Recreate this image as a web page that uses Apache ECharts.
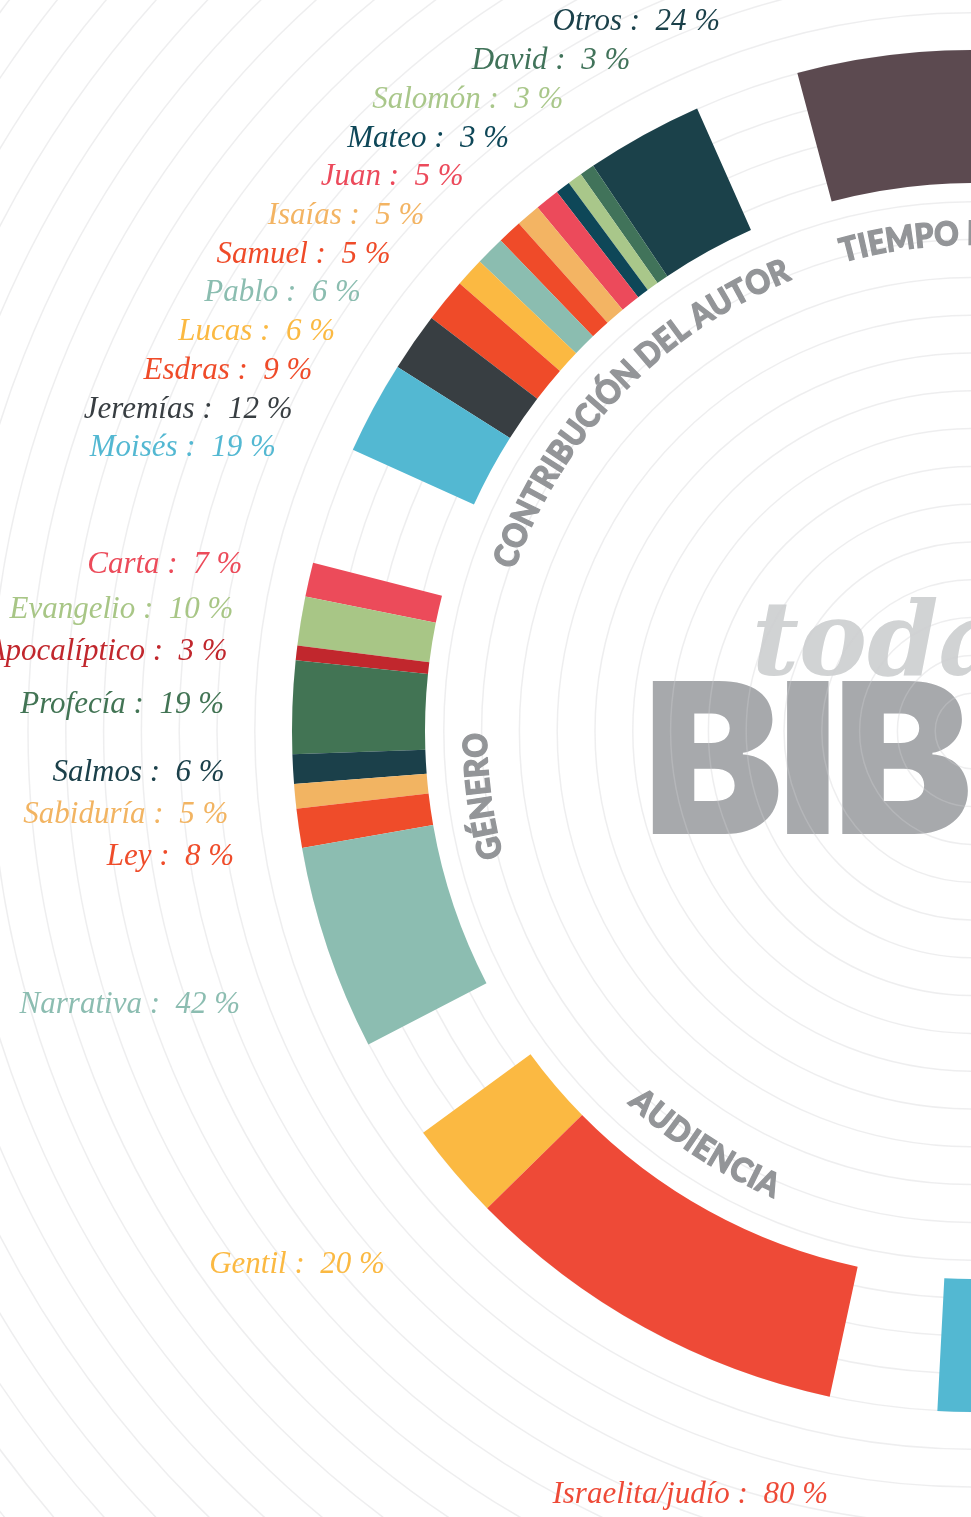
<!DOCTYPE html>
<html>
<head>
<meta charset="utf-8">
<script src="https://cdn.jsdelivr.net/npm/echarts@6/dist/echarts.min.js"></script>
<style>
  html, body { margin: 0; padding: 0; background: #fff; }
  #chart { width: 971px; height: 1517px; }
</style>
</head>
<body>
<div id="chart"></div>
<script>
// Contribución del autor (%)
const autorNames = ['Otros', 'David', 'Salomón', 'Mateo', 'Juan', 'Isaías', 'Samuel', 'Pablo', 'Lucas', 'Esdras', 'Jeremías', 'Moisés'];
const autorValues = [24, 3, 3, 3, 5, 5, 5, 6, 6, 9, 12, 19];

// Género (%)
const generoNames = ['Carta', 'Evangelio', 'Apocalíptico', 'Profecía', 'Salmos', 'Sabiduría', 'Ley', 'Narrativa'];
const generoValues = [7, 10, 3, 19, 6, 5, 8, 42];

// Audiencia (%)
const audienciaNames = ['Gentil', 'Israelita/judío'];
const audienciaValues = [20, 80];

// rings cut by the right edge: only one piece of each shows
const tiempoNames = ['Tiempo'];
const tiempoValues = [100];
const ultimoNames = ['Otro'];
const ultimoValues = [100];

// colours
const autorColors = ['#1b414a', '#41735a', '#a9c78a', '#0e4758', '#ec4a5b', '#f3b463', '#ef4b29', '#8bbdb0', '#fbb942', '#ef4b29', '#383e42', '#53b8d2'];
const generoColors = ['#ec4b5a', '#a8c686', '#c1272d', '#427454', '#1b404a', '#f2b462', '#ef4c2a', '#8cbdb1'];
const audienciaColors = ['#fbb942', '#ee4a37'];
const tiempoColors = ['#5c4a50'];
const ultimoColors = ['#53b8d2'];

// geometry (px / degrees, 0 = 3 o'clock, counter-clockwise)
const RAD = Math.PI / 180;
const CX = 973, CY = 731;
const R_IN = 548, R_OUT = 681;
const SPAN = 41.7;
const START = { autor: 113.9, genero: 165.7, audiencia: 216.15, tiempo: 63.25, ultimo: 267.0 };
const GRID_STEP = 37.8, GRID_COUNT = 33;

// label rows: radius of the right edge, min row gap, vertical shift
const LABEL = {
  autor: { r: 752.5, gap: 38.7, shift: -50 },
  genero: { r: 749.5, gap: 42, shift: 0 },
  audiencia: { r: 786, gap: 42, shift: 0 },
};
// labels the designer moved away from their slice: [angle, radius]
const LABEL_ANCHOR = { 'Narrativa': [200.5, 782.5], 'Gentil': [222.2, 794], 'Israelita/judío': [259.25, 777.6] };

const LABEL_FONT = '"Liberation Serif", "DejaVu Serif", serif';
const TITLE_FONT = 'Lato, "DejaVu Sans", sans-serif';
const TITLE_COLOR = '#939598';
const TITLE_R = 497;
const TITLE_SCALE = 0.92, TITLE_TRACK = 0.5;

function labelSpots(names, values, start, cfg) {
  const total = values.reduce((a, b) => a + b, 0);
  let acc = 0;
  let prev = -Infinity;
  return names.map((name, i) => {
    const mid = start + SPAN * (acc + values[i] / 2) / total;
    acc += values[i];
    let r = cfg.r;
    let y;
    if (LABEL_ANCHOR[name]) {
      const [a, rr] = LABEL_ANCHOR[name];
      r = rr;
      y = CY - rr * Math.sin(a * RAD);
    } else {
      y = Math.max(CY - r * Math.sin(mid * RAD), prev + cfg.gap);
      prev = y;
      y += cfg.shift;
    }
    const x = CX - Math.sqrt(Math.max(r * r - (y - CY) * (y - CY), 0));
    return { x, y };
  });
}

function ring(names, values, colors, start, spots) {
  return {
    type: 'pie',
    center: [CX, CY],
    radius: [R_IN, R_OUT],
    startAngle: start,
    endAngle: start + SPAN,
    clockwise: false,
    silent: true,
    avoidLabelOverlap: false,
    z: 2,
    itemStyle: { borderWidth: 0 },
    label: spots ? {
      show: true,
      position: 'outside',
      fontFamily: LABEL_FONT,
      fontStyle: 'italic',
      fontSize: 31,
      overflow: 'none',
      formatter: p => `${p.name} :  ${p.value} %`,
    } : { show: false },
    labelLine: { show: false },
    labelLayout: spots ? (p => ({ x: spots[p.dataIndex].x, y: spots[p.dataIndex].y, align: 'right', verticalAlign: 'middle' })) : undefined,
    emphasis: { disabled: true },
    data: names.map((n, i) => ({ name: n, value: values[i], itemStyle: { color: colors[i] }, label: { color: colors[i] } })),
  };
}

const measureCtx = document.createElement('canvas').getContext('2d');
function textWidth(str, font) {
  measureCtx.font = font;
  return measureCtx.measureText(str).width;
}

// text set along an arc; outward = letter tops point away from the centre
function arcText(text, midDeg, radius, outward, fontSize) {
  const font = `900 ${fontSize}px ${TITLE_FONT}`;
  const chars = [...text];
  const widths = chars.map(ch => textWidth(ch, font) * TITLE_SCALE + TITLE_TRACK);
  const total = widths.reduce((a, b) => a + b, 0);
  const dir = outward ? -1 : 1;
  let pos = -total / 2;
  return chars.map((ch, i) => {
    const a = midDeg + dir * (pos + widths[i] / 2) / radius / RAD;
    pos += widths[i];
    return {
      type: 'text',
      x: CX + radius * Math.cos(a * RAD),
      y: CY - radius * Math.sin(a * RAD),
      rotation: (outward ? a - 90 : a + 90) * RAD,
      scaleX: TITLE_SCALE,
      z: 5,
      silent: true,
      style: {
        text: ch, font, fill: TITLE_COLOR, stroke: TITLE_COLOR, lineWidth: 1.3,
        align: 'center', verticalAlign: 'middle', textAlign: 'center', textVerticalAlign: 'middle',
      },
    };
  });
}

const mid = key => START[key] + SPAN / 2;

// big title words
const BIG_FONT = '900 210px Inter, "DejaVu Sans", sans-serif';
const BIG_X = 643, BIG_Y = 771, BIG_TRACK = -6;
let bx = BIG_X;
const bigLetters = [...'BIBLIA'].map(ch => {
  const el = {
    type: 'text', x: bx, y: BIG_Y, z: -1, silent: true,
    style: { text: ch, font: BIG_FONT, fill: '#a7a9ac', align: 'left', verticalAlign: 'middle', textAlign: 'left', textVerticalAlign: 'middle' },
  };
  bx += textWidth(ch, BIG_FONT) + BIG_TRACK;
  return el;
});

const graphics = [
  {
    type: 'text', x: 752, y: 648, z: -1, silent: true,
    style: { text: 'toda la', font: 'italic bold 102px "DejaVu Serif", serif', fill: '#d1d3d4', align: 'left', verticalAlign: 'middle', textAlign: 'left', textVerticalAlign: 'middle' },
  },
  ...bigLetters,
  ...arcText('CONTRIBUCIÓN DEL AUTOR', mid('autor') + 1.5, TITLE_R, true, 33),
  ...arcText('GÉNERO', mid('genero') + 1, TITLE_R, true, 33),
  ...arcText('AUDIENCIA', mid('audiencia'), TITLE_R, false, 33),
  ...arcText('TIEMPO DE ESCRITURA', mid('tiempo') + 1.4, TITLE_R, true, 33),
];

const chart = echarts.init(document.getElementById('chart'));
chart.setOption({
  animation: false,
  backgroundColor: '#ffffff',
  polar: { center: [CX, CY], radius: GRID_STEP * GRID_COUNT },
  angleAxis: { type: 'value', min: 0, max: 360, show: false },
  radiusAxis: {
    type: 'value', min: 0, max: GRID_COUNT, interval: 1, z: 1,
    axisLine: { show: false }, axisTick: { show: false }, axisLabel: { show: false },
    splitLine: { show: true, lineStyle: { color: 'rgba(205,205,208,0.35)', width: 1.5 } },
  },
  graphic: { elements: graphics },
  series: [
    ring(autorNames, autorValues, autorColors, START.autor, labelSpots(autorNames, autorValues, START.autor, LABEL.autor)),
    ring(generoNames, generoValues, generoColors, START.genero, labelSpots(generoNames, generoValues, START.genero, LABEL.genero)),
    ring(audienciaNames, audienciaValues, audienciaColors, START.audiencia, labelSpots(audienciaNames, audienciaValues, START.audiencia, LABEL.audiencia)),
    ring(tiempoNames, tiempoValues, tiempoColors, START.tiempo, null),
    ring(ultimoNames, ultimoValues, ultimoColors, START.ultimo, null),
  ],
});
window.addEventListener('resize', () => chart.resize());
</script>
</body>
</html>
